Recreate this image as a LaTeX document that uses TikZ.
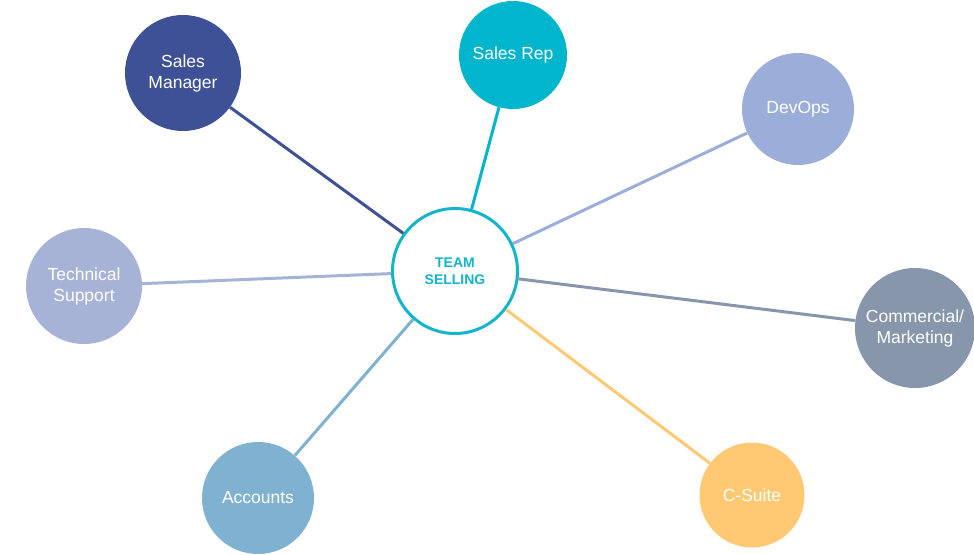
\documentclass[tikz,border=0pt]{standalone}
\usepackage{fontspec}
\setmainfont{Liberation Sans}
\definecolor{managerblue}{HTML}{3F5196}
\definecolor{repcyan}{HTML}{00B5CC}
\definecolor{devopsblue}{HTML}{9BAEDA}
\definecolor{supportblue}{HTML}{A7B2D7}
\definecolor{commgray}{HTML}{8796AA}
\definecolor{accountsblue}{HTML}{7FB1D1}
\definecolor{suiteorange}{HTML}{FFC973}
\definecolor{teamcyan}{HTML}{14B4CB}
\begin{document}
\begin{tikzpicture}[x=1pt, y=-1pt,
    member/.style={circle, fill=#1, text=white, inner sep=0pt, align=center,
      font=\fontsize{17.5}{21}\selectfont},
    link/.style={draw=#1, line width=3pt}]
      \useasboundingbox (0,0) rectangle (974,554);
      \node[circle, draw=teamcyan, line width=3pt, fill=white, minimum size=125pt,
        text=teamcyan, align=center, font=\bfseries\fontsize{14}{17}\selectfont]
        (team) at (455,271) {TEAM\\SELLING};
      \node[member=managerblue, minimum size=116pt] (manager) at (183,73) {Sales\\Manager};
      \node[member=repcyan, minimum size=108pt] (rep) at (513,55) {Sales Rep};
      \node[member=devopsblue, minimum size=112pt] (devops) at (798,109) {DevOps};
      \node[member=supportblue, minimum size=116pt] (support) at (84,286) {Technical\\Support};
      \node[member=commgray, minimum size=120pt] (comm) at (915,328) {Commercial/\\Marketing};
      \node[member=accountsblue, minimum size=112pt] (accounts) at (258,498) {Accounts};
      \node[member=suiteorange, minimum size=105pt] (suite) at (752,495) {C-Suite};
      \draw[link=managerblue] (team) -- (manager);
      \draw[link=repcyan] (team) -- (rep);
      \draw[link=devopsblue] (team) -- (devops);
      \draw[link=supportblue] (team) -- (support);
      \draw[link=commgray] (team) -- (comm);
      \draw[link=accountsblue] (team) -- (accounts);
      \draw[link=suiteorange] (team) -- (suite);
\end{tikzpicture}
\end{document}
